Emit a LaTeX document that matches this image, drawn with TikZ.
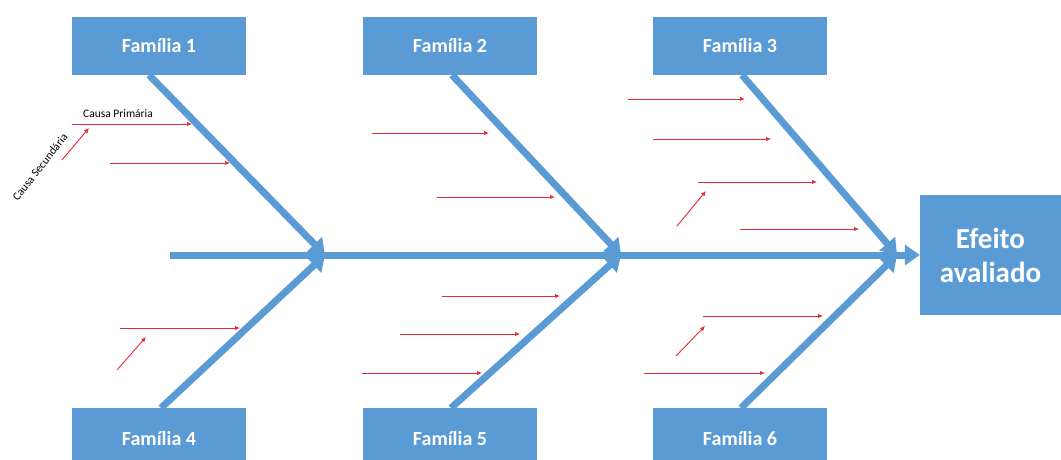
\documentclass[tikz,border=0pt]{standalone}
\usepackage{fontspec}
\setmainfont{Carlito}
\usetikzlibrary{arrows.meta}
\definecolor{fbblue}{RGB}{91,155,213}
\definecolor{fbred}{RGB}{232,40,50}
\tikzset{
  fambox/.style={fill=fbblue, draw=none, minimum width=174pt, minimum height=58pt, inner sep=0pt,
    text=white, font=\fontsize{20}{22}\selectfont\bfseries},
  bone/.style={draw=fbblue, line width=7pt, -{Triangle[length=15pt,width=20pt]}},
  cause/.style={draw=fbred, line width=0.9pt, -{Latex[length=5pt,width=4.5pt]}},
  smalllbl/.style={font=\fontsize{11.5}{12}\selectfont, text=black, inner sep=0pt}
}
\begin{document}
\begin{tikzpicture}[x=1pt,y=-1pt]
\fill[white] (0,0) rectangle (1061,460);
\useasboundingbox (0,0) rectangle (1061,460);
\clip (0,0) rectangle (1061,460);

% boxes
\node[fambox] (f1) at (159,46) {Família 1};
\node[fambox] (f2) at (450,46) {Família 2};
\node[fambox] (f3) at (740,46) {Família 3};
\node[fambox, minimum height=62pt] (f4) at (159,439) {Família 4};
\node[fambox, minimum height=62pt] (f5) at (450,439) {Família 5};
\node[fambox, minimum height=62pt] (f6) at (740,439) {Família 6};
\node[fambox, minimum width=141pt, minimum height=120pt, align=center,
  font=\fontsize{29}{34}\selectfont\bfseries] (ef) at (990.5,255) {Efeito\\avaliado};

% spine
\coordinate (s0) at (170,255);
\draw[bone] (s0) -- (ef.west);

% bone coordinates
\coordinate (j1) at (325,255);
\coordinate (j2) at (621,255);
\coordinate (j3) at (897,255);
\coordinate (b1) at (149,75);
\coordinate (b2) at (452,75);
\coordinate (b3) at (742,75);
\coordinate (b4) at (161,408);
\coordinate (b5) at (451,408);
\coordinate (b6) at (741,408);
\draw[bone] (b1) -- (j1);
\draw[bone] (b4) -- (j1);
\draw[bone] (b2) -- (j2);
\draw[bone] (b5) -- (j2);
\draw[bone] (b3) -- (j3);
\draw[bone] (b6) -- (j3);

% family 1 causes
\coordinate (c1a) at (72,124);  \coordinate (c1b) at (192,124);
\coordinate (c1c) at (62,160);  \coordinate (c1d) at (89,128);
\coordinate (c1e) at (110,163); \coordinate (c1f) at (230,163);
\draw[cause] (c1a) -- (c1b);
\draw[cause] (c1c) -- (c1d);
\draw[cause] (c1e) -- (c1f);
\node[smalllbl] (lp) at (118,114) {Causa Primária};
\node[smalllbl, rotate=52] (ls) at (40,167) {Causa Secundária};

% family 2
\coordinate (c2a) at (372,133); \coordinate (c2b) at (489,133);
\coordinate (c2c) at (437,197); \coordinate (c2d) at (555,197);
\draw[cause] (c2a) -- (c2b);
\draw[cause] (c2c) -- (c2d);

% family 3
\coordinate (c3a) at (628,99);  \coordinate (c3b) at (745,99);
\coordinate (c3c) at (653,139); \coordinate (c3d) at (771,139);
\coordinate (c3e) at (698,182); \coordinate (c3f) at (817,182);
\coordinate (c3g) at (677,226); \coordinate (c3h) at (706,191);
\coordinate (c3i) at (740,229); \coordinate (c3j) at (859,229);
\draw[cause] (c3a) -- (c3b);
\draw[cause] (c3c) -- (c3d);
\draw[cause] (c3e) -- (c3f);
\draw[cause] (c3g) -- (c3h);
\draw[cause] (c3i) -- (c3j);

% family 4
\coordinate (c4a) at (120,328); \coordinate (c4b) at (240,328);
\coordinate (c4c) at (117,370); \coordinate (c4d) at (146,337);
\draw[cause] (c4a) -- (c4b);
\draw[cause] (c4c) -- (c4d);

% family 5
\coordinate (c5a) at (442,296); \coordinate (c5b) at (560,296);
\coordinate (c5c) at (400,334); \coordinate (c5d) at (520,334);
\coordinate (c5e) at (362,373); \coordinate (c5f) at (482,373);
\draw[cause] (c5a) -- (c5b);
\draw[cause] (c5c) -- (c5d);
\draw[cause] (c5e) -- (c5f);

% family 6
\coordinate (c6a) at (703,316); \coordinate (c6b) at (823,316);
\coordinate (c6c) at (676,356); \coordinate (c6d) at (705,326);
\coordinate (c6e) at (644,373); \coordinate (c6f) at (765,373);
\draw[cause] (c6a) -- (c6b);
\draw[cause] (c6c) -- (c6d);
\draw[cause] (c6e) -- (c6f);
\end{tikzpicture}
\end{document}
